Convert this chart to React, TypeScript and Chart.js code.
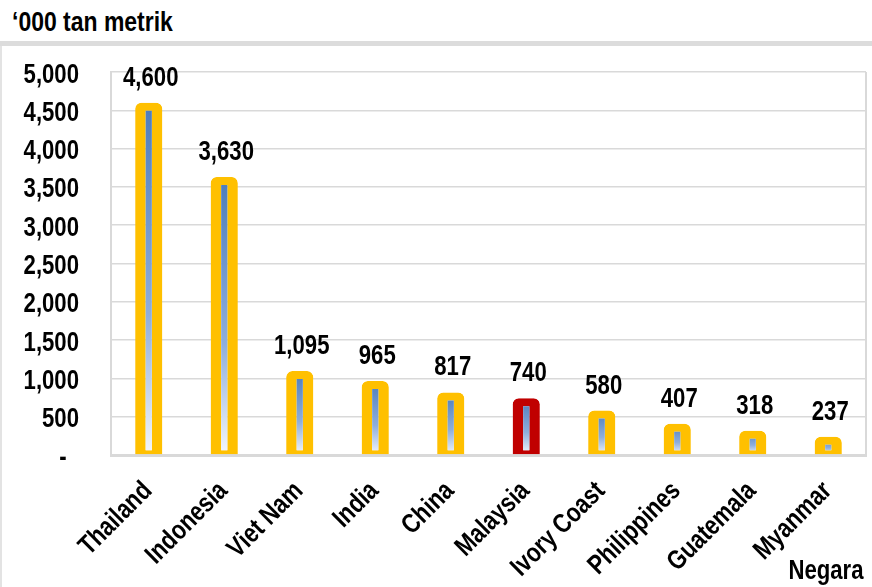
import React, { useEffect, useRef } from "react";
import { Chart, registerables } from "chart.js";
Chart.register(...registerables);

const categories = ["Thailand", "Indonesia", "Viet Nam", "India", "China", "Malaysia", "Ivory Coast", "Philippines", "Guatemala", "Myanmar"];
const values = [4600, 3630, 1095, 965, 817, 740, 580, 407, 318, 237];
const highlighted = ["Malaysia"];
const yMin = 0;
const yMax = 5000;
const yStep = 500;
const unitLabel = "\u2018000 tan metrik";
const axisTitle = "Negara";

const FONT = "'Liberation Sans', Arial, sans-serif";
const NARROW = 0.82;
const GOLD = "#ffc000";
const RED = "#c00000";
const GRID = "#d9d9d9";

const fmt = (v: number) => (v === 0 ? "-" : v.toLocaleString("en-US"));

function narrowText(ctx: CanvasRenderingContext2D, text: string, x: number, y: number, align: CanvasTextAlign, angle = 0) {
  ctx.save();
  ctx.translate(x, y);
  if (angle) ctx.rotate(angle);
  ctx.scale(NARROW, 1);
  ctx.textAlign = align;
  ctx.textBaseline = "alphabetic";
  ctx.fillText(text, 0, 0);
  ctx.restore();
}

const textPlugin = {
  id: "narrowTexts",
  afterDraw(chart: any) {
    const ctx = chart.ctx;
    const xs = chart.scales.x;
    const ys = chart.scales.y;
    const meta = chart.getDatasetMeta(0);
    ctx.save();
    ctx.fillStyle = "#000";
    ctx.font = `bold 27px ${FONT}`;
    meta.data.forEach((el: any, i: number) => {
      narrowText(ctx, fmt(values[i]), el.x + 2, el.y - 17, "center");
    });
    ys.ticks.forEach((t: any) => {
      const py = ys.getPixelForValue(t.value);
      if (t.value === 0) narrowText(ctx, fmt(0), ys.right - 48, py + 10.5, "center");
      else narrowText(ctx, fmt(t.value), ys.right - 32, py + 10.5, "right");
    });
    categories.forEach((c, i) => {
      const px = xs.getPixelForTick(i);
      narrowText(ctx, c, px + 4.5, xs.top + 37, "right", -Math.PI / 4);
    });
    ctx.restore();
  },
};

const framePlugin = {
  id: "frame",
  beforeDatasetsDraw(chart: any) {
    const { ctx, chartArea } = chart;
    ctx.save();
    ctx.strokeStyle = GRID;
    ctx.lineWidth = 2;
    ctx.beginPath();
    ctx.moveTo(chartArea.right, chartArea.top);
    ctx.lineTo(chartArea.right, chartArea.bottom);
    ctx.stroke();
    ctx.restore();
  },
};

export default function App() {
  const ref = useRef<HTMLCanvasElement | null>(null);
  useEffect(() => {
    if (!ref.current) return;
    const chart = new Chart(ref.current, {
      type: "bar",
      data: {
        labels: categories,
        datasets: [
          {
            data: values,
            backgroundColor: (c: any) => {
              const ch = c.chart;
              const area = ch.chartArea;
              if (!area || !c.parsed) return "#6f95c8";
              const ys = ch.scales.y;
              const top = ys.getPixelForValue(c.parsed.y);
              const bottom = ys.getPixelForValue(0);
              const g = ch.ctx.createLinearGradient(0, top, 0, bottom);
              g.addColorStop(0, "#4c7cbb");
              g.addColorStop(0.6, "#8eaedb");
              g.addColorStop(1, "#f4f7fc");
              return g;
            },
            borderColor: categories.map((c) => (highlighted.includes(c) ? RED : GOLD)),
            borderWidth: { top: 8, left: 10.5, right: 10.5, bottom: 4 },
            borderSkipped: false,
            borderRadius: { topLeft: 6, topRight: 6, bottomLeft: 0, bottomRight: 0 },
            barPercentage: 0.36,
            categoryPercentage: 1,
          },
        ],
      },
      options: {
        animation: false,
        responsive: true,
        maintainAspectRatio: false,
        layout: { padding: { top: 72, right: 6, left: 0, bottom: 0 } },
        plugins: { legend: { display: false }, tooltip: { enabled: false } },
        scales: {
          x: {
            grid: { display: false },
            border: { display: true, color: GRID, width: 3 },
            ticks: { display: false },
            afterFit: (s: any) => {
              s.height = 132;
            },
          },
          y: {
            min: yMin,
            max: yMax,
            grid: { color: GRID, lineWidth: 1.5, drawTicks: false },
            border: { display: true, color: GRID, width: 2 },
            ticks: { display: false, stepSize: yStep },
            afterFit: (s: any) => {
              s.width = 111;
            },
          },
        },
      },
      plugins: [framePlugin, textPlugin],
    });
    return () => chart.destroy();
  }, []);

  const textStyle: React.CSSProperties = {
    position: "absolute",
    fontFamily: FONT,
    fontWeight: "bold",
    lineHeight: 1,
    color: "#000",
    whiteSpace: "nowrap",
  };

  return (
    <div style={{ position: "fixed", left: 0, top: 0, width: 872, height: 587, background: "#fff", overflow: "hidden" }}>
      <div style={{ ...textStyle, left: 12, top: 8, fontSize: 28, transform: `scaleX(${NARROW})`, transformOrigin: "left center" }}>
        {unitLabel}
      </div>
      <div style={{ position: "absolute", left: 0, top: 41, width: 872, height: 5, background: "#dcdcdc" }} />
      <div style={{ position: "absolute", left: 0, top: 46, width: 2, height: 541, background: "#e3e3e3" }} />
      <div style={{ position: "absolute", left: 0, top: 0, width: 872, height: 587 }}>
        <canvas ref={ref} />
      </div>
      <div style={{ ...textStyle, right: 8, top: 557, fontSize: 27, transform: `scaleX(${NARROW})`, transformOrigin: "right center" }}>
        {axisTitle}
      </div>
    </div>
  );
}
